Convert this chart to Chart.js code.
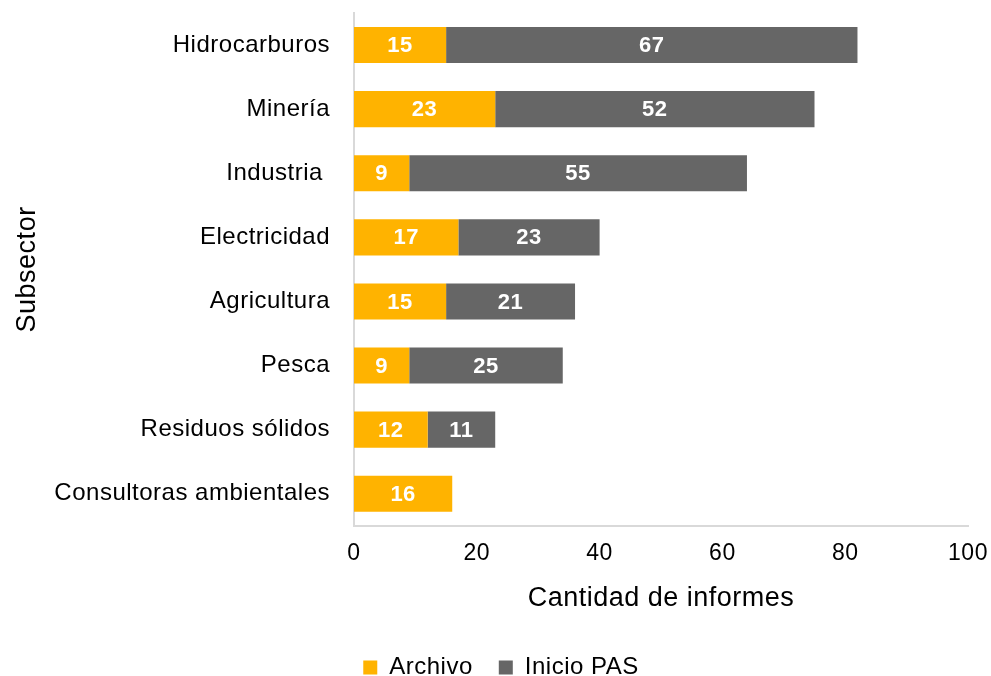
<!DOCTYPE html>
<html>
<head>
<meta charset="utf-8">
<script src="https://cdn.jsdelivr.net/npm/chart.js@4.4.0/dist/chart.umd.min.js"></script>
<style>
html,body{margin:0;padding:0;background:#fff;}
#wrap{width:991px;height:676px;position:relative;}
</style>
</head>
<body>
<div id="wrap"><canvas id="c" width="991" height="676"></canvas></div>
<script>
const categories = ["Hidrocarburos", "Minería", "Industria ", "Electricidad", "Agricultura", "Pesca", "Residuos sólidos", "Consultoras ambientales"];
const archivo = [15, 23, 9, 17, 15, 9, 12, 16];
const inicioPAS = [67, 52, 55, 23, 21, 25, 11, null];
const xTicks = [0, 20, 40, 60, 80, 100];

const FONT = "'Liberation Sans', Arial, sans-serif";
const SPACING = '0.5px';

const spacingPlugin = {
  id: 'letterSpacing',
  beforeUpdate(chart) { chart.ctx.letterSpacing = SPACING; },
  beforeDraw(chart) { chart.ctx.letterSpacing = SPACING; },
  afterLayout(chart) {
    if (chart.legend) { chart.legend.left += 17; chart.legend.right += 17; }
  }
};

const labelPlugin = {
  id: 'barLabels',
  afterDatasetsDraw(chart) {
    const ctx = chart.ctx;
    ctx.save();
    ctx.font = "bold 22px " + FONT;
    ctx.fillStyle = "#ffffff";
    ctx.textAlign = "center";
    ctx.textBaseline = "middle";
    chart.data.datasets.forEach((ds, i) => {
      const meta = chart.getDatasetMeta(i);
      meta.data.forEach((bar, j) => {
        const v = ds.data[j];
        if (v === null || v === undefined) return;
        const cx = (bar.x + bar.base) / 2;
        ctx.fillText(String(v), cx, bar.y + 1);
      });
    });
    ctx.restore();
  }
};

new Chart(document.getElementById('c'), {
  type: 'bar',
  data: {
    labels: categories,
    datasets: [
      { label: 'Archivo', data: archivo, backgroundColor: '#FFB300', borderWidth: 0, barPercentage: 0.75, categoryPercentage: 0.75 },
      { label: 'Inicio PAS', data: inicioPAS, backgroundColor: '#666666', borderWidth: 0, barPercentage: 0.75, categoryPercentage: 0.75 }
    ]
  },
  options: {
    indexAxis: 'y',
    responsive: false,
    animation: false,
    layout: { padding: { top: 13, right: 23, left: 0, bottom: -13.4 } },
    scales: {
      x: {
        stacked: true,
        min: 0, max: 100,
        afterBuildTicks(scale) { scale.ticks = xTicks.map(v => ({ value: v })); },
        grid: { display: false, drawTicks: false },
        border: { display: true, color: '#d9d9d9', width: 2 },
        ticks: { color: '#000', font: { family: FONT, size: 23 }, padding: 14, maxRotation: 0 },
        title: { display: true, text: 'Cantidad de informes', color: '#000', font: { family: FONT, size: 27 }, padding: { top: 0, bottom: 14.4 } },
        afterFit(scale) { scale.height = 103.6; scale.paddingLeft = 0; scale.paddingRight = 0; }
      },
      y: {
        stacked: true,
        grid: { display: false, drawTicks: false },
        border: { display: true, color: '#d9d9d9', width: 2 },
        ticks: { color: '#000', font: { family: FONT, size: 24 }, padding: 24 },
        title: { display: true, text: 'Subsector', color: '#000', font: { family: FONT, size: 27 }, padding: { top: 11.8, bottom: 0 } },
        afterFit(scale) { scale.width = 354; scale.paddingTop = 0; scale.paddingBottom = 0; }
      }
    },
    plugins: {
      legend: {
        position: 'bottom',
        labels: { color: '#000', font: { family: FONT, size: 24 }, boxWidth: 14, boxHeight: 14, padding: 26 }
      },
      tooltip: { enabled: false }
    }
  },
  plugins: [spacingPlugin, labelPlugin]
});
</script>
</body>
</html>
